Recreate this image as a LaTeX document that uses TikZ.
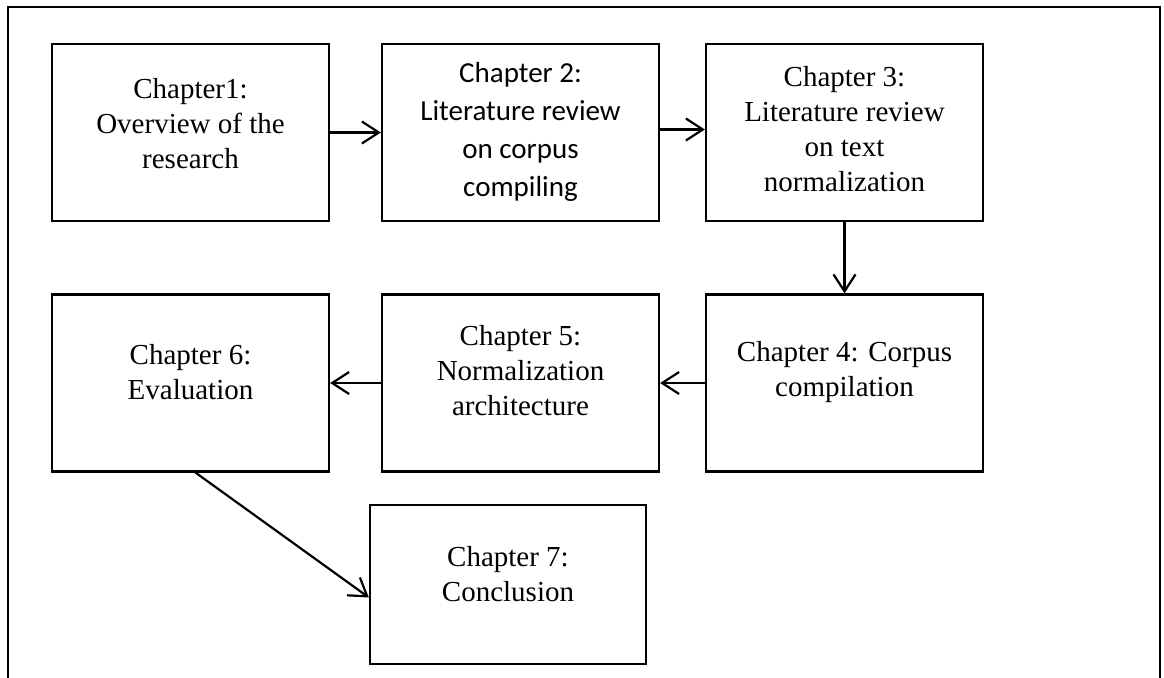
\documentclass[tikz,border=0pt]{standalone}
\usepackage{fontspec}
\setmainfont{Liberation Serif}
\newfontfamily\calibrilike{Carlito}
\usetikzlibrary{arrows.meta,calc}

\tikzset{
  chapbox/.style={draw=black, line width=2.2pt, rectangle, inner sep=0pt,
                  minimum width=277pt, minimum height=177pt},
  chaptext/.style={align=center, font=\fontsize{29pt}{35pt}\selectfont, inner sep=0pt},
  chaptextsans/.style={align=center, font=\calibrilike\fontsize{29pt}{38pt}\selectfont, inner sep=0pt},
  flow/.style={draw=black, line width=2.2pt,
               -{Straight Barb[length=17pt,width=22pt,line width=2.2pt]}},
}

\begin{document}
\begin{tikzpicture}[x=1pt,y=-1pt]
  \useasboundingbox (0,0) rectangle (1164,677);

  % surrounding frame (open at the bottom)
  \draw[line width=1.6pt] (8,680) -- (8,7) -- (1160,7) -- (1160,680);

  % chapter boxes
  \node[chapbox] (b1) at (190.5,132.5) {};
  \node[chapbox] (b2) at (520.5,132.5) {};
  \node[chapbox] (b3) at (844.5,132.5) {};
  \node[chapbox] (b4) at (844.5,383) {};
  \node[chapbox] (b5) at (520.5,383) {};
  \node[chapbox] (b6) at (190.5,383) {};
  \node[chapbox, minimum width=276pt, minimum height=159pt] (b7) at (508,584.5) {};

  % box captions
  \node[chaptext] (t1) at (190.5,124) {Chapter1:\\Overview of the\\research};
  \node[chaptextsans] (t2) at (520.5,132) {Chapter 2:\\Literature review\\on corpus\\compiling};
  \node[chaptext] (t3) at (844.5,129) {Chapter 3:\\Literature review\\on text\\normalization};
  \node[chaptext] (t4) at (844.5,372) {Chapter 4: Corpus\\compilation};
  \node[chaptext] (t5) at (520.5,371) {Chapter 5:\\Normalization\\architecture};
  \node[chaptext] (t6) at (190.5,372) {Chapter 6:\\Evaluation};
  \node[chaptext] (t7) at (508,574) {Chapter 7:\\Conclusion};

  % reading order
  \draw[flow] (b1.east) -- (b2.west);
  \draw[flow] ($(b2.east)+(0,-3)$) -- ($(b3.west)+(0,-3)$);
  \draw[flow] (b3.south) -- (b4.north);
  \draw[flow] (b4.west) -- (b5.east);
  \draw[flow] (b5.west) -- (b6.east);
  \draw[flow] ($(b6.south)+(5,0)$) -- ($(b7.west)+(0,13)$);
\end{tikzpicture}
\end{document}
